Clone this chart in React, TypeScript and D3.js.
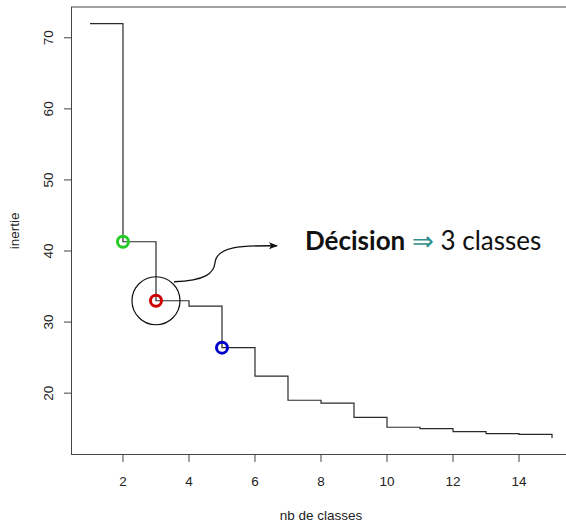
import React, { useEffect, useRef } from 'react';
import * as d3 from 'd3';

// nombre de classes et inertie intra correspondante
const nbClasses = [1, 2, 3, 4, 5, 6, 7, 8, 9, 10, 11, 12, 13, 14, 15];
const inertie = [72.0, 41.3, 33.0, 32.25, 26.4, 22.4, 19.0, 18.6, 16.6, 15.2, 15.0, 14.6, 14.3, 14.2, 13.7];
const xTicks = [2, 4, 6, 8, 10, 12, 14];
const yTicks = [20, 30, 40, 50, 60, 70];

// points mis en evidence
const highlights = [
  { k: 2, color: '#22cc22' },
  { k: 3, color: '#cc0000' },
  { k: 5, color: '#0000cc' },
];
const chosen = 3;

const W = 566;
const H = 522;

const App: React.FC = () => {
  const svgRef = useRef<SVGSVGElement>(null);

  useEffect(() => {
    if (!svgRef.current) return;
    const svg = d3.select(svgRef.current);
    svg.selectAll('*').remove();

    const left = 71.5, right = 570.5, top = 7, bottom = 454.5;

    // R style: 4% extension of the data range
    const [x0, x1] = d3.extent(nbClasses) as [number, number];
    const [y0, y1] = d3.extent(inertie) as [number, number];
    const dx = (x1 - x0) * 0.04;
    const dy = (y1 - y0) * 0.04;

    const x = d3.scaleLinear().domain([x0 - dx, x1 + dx]).range([left, right]);
    const y = d3.scaleLinear().domain([y0 - dy, y1 + dy]).range([bottom, top]);

    const font = '"Liberation Sans", Arial, Helvetica, sans-serif';
    const fs = '13.5px';

    // box
    svg.append('rect')
      .attr('x', left).attr('y', top)
      .attr('width', right - left).attr('height', bottom - top)
      .attr('fill', 'none').attr('stroke', '#444').attr('stroke-width', 1);

    // x axis
    const gx = svg.append('g');
    xTicks.forEach(t => {
      gx.append('line')
        .attr('x1', x(t)).attr('x2', x(t))
        .attr('y1', bottom).attr('y2', bottom + 7.5)
        .attr('stroke', '#444');
      gx.append('text')
        .attr('x', x(t)).attr('y', 486)
        .attr('text-anchor', 'middle')
        .style('font-family', font).style('font-size', fs)
        .attr('fill', '#222')
        .text(t);
    });

    // y axis
    const gy = svg.append('g');
    yTicks.forEach(t => {
      gy.append('line')
        .attr('x1', left - 7.5).attr('x2', left)
        .attr('y1', y(t)).attr('y2', y(t))
        .attr('stroke', '#444');
      gy.append('text')
        .attr('transform', `translate(52.5, ${y(t)}) rotate(-90)`)
        .attr('text-anchor', 'middle')
        .style('font-family', font).style('font-size', fs)
        .attr('fill', '#222')
        .text(t);
    });

    // axis titles
    svg.append('text')
      .attr('x', (left + right) / 2).attr('y', 520)
      .attr('text-anchor', 'middle')
      .style('font-family', font).style('font-size', fs)
      .attr('fill', '#222')
      .text('nb de classes');

    svg.append('text')
      .attr('transform', `translate(19, ${(top + bottom) / 2}) rotate(-90)`)
      .attr('text-anchor', 'middle')
      .style('font-family', font).style('font-size', fs)
      .attr('fill', '#222')
      .text('inertie');

    // step curve (type = "s")
    const line = d3.line<number>()
      .x((_, i) => x(nbClasses[i]))
      .y(d => y(d))
      .curve(d3.curveStepAfter);

    svg.append('path')
      .datum(inertie)
      .attr('d', line)
      .attr('fill', 'none')
      .attr('stroke', '#2a2a2a')
      .attr('stroke-width', 1.2);

    // coloured circles
    highlights.forEach(h => {
      svg.append('circle')
        .attr('cx', x(h.k)).attr('cy', y(inertie[h.k - 1]))
        .attr('r', 5.5)
        .attr('fill', 'none')
        .attr('stroke', h.color)
        .attr('stroke-width', 3);
    });

    // big circle + curved arrow towards the decision text
    const cx = x(chosen);
    const cy = y(inertie[chosen - 1]);
    svg.append('circle')
      .attr('cx', cx).attr('cy', cy).attr('r', 24)
      .attr('fill', 'none').attr('stroke', '#111').attr('stroke-width', 1.2);

    const defs = svg.append('defs');
    defs.append('marker')
      .attr('id', 'head')
      .attr('viewBox', '0 0 10 10')
      .attr('refX', 9).attr('refY', 5)
      .attr('markerWidth', 9).attr('markerHeight', 9)
      .attr('markerUnits', 'userSpaceOnUse')
      .attr('orient', 'auto')
      .append('path')
      .attr('d', 'M0,1 L10,5 L0,9 L2.5,5 Z')
      .attr('fill', '#111');

    const p = d3.path();
    p.moveTo(cx + 18, cy - 19);
    p.bezierCurveTo(cx + 50, cy - 20, cx + 58, cy - 28, cx + 59, cy - 38);
    p.bezierCurveTo(cx + 61, cy - 56, cx + 90, cy - 55, cx + 121, cy - 55);
    svg.append('path')
      .attr('d', p.toString())
      .attr('fill', 'none')
      .attr('stroke', '#111')
      .attr('stroke-width', 1.3)
      .attr('marker-end', 'url(#head)');

    const txt = svg.append('text')
      .attr('x', 305).attr('y', 250)
      .style('font-family', 'Lato, "Open Sans", sans-serif')
      .style('font-size', '26px')
      .attr('fill', '#111');
    txt.append('tspan').style('font-weight', 'bold').text('Décision');
    txt.append('tspan').attr('fill', '#2f8f8f').text(' \u21D2 ');
    txt.append('tspan').text('3 classes');
  }, []);

  return (
    <div style={{ position: 'absolute', left: 0, top: 0 }}>
      <svg ref={svgRef} width={W} height={H} style={{ display: 'block', background: '#fff' }} />
    </div>
  );
};

export default App;
